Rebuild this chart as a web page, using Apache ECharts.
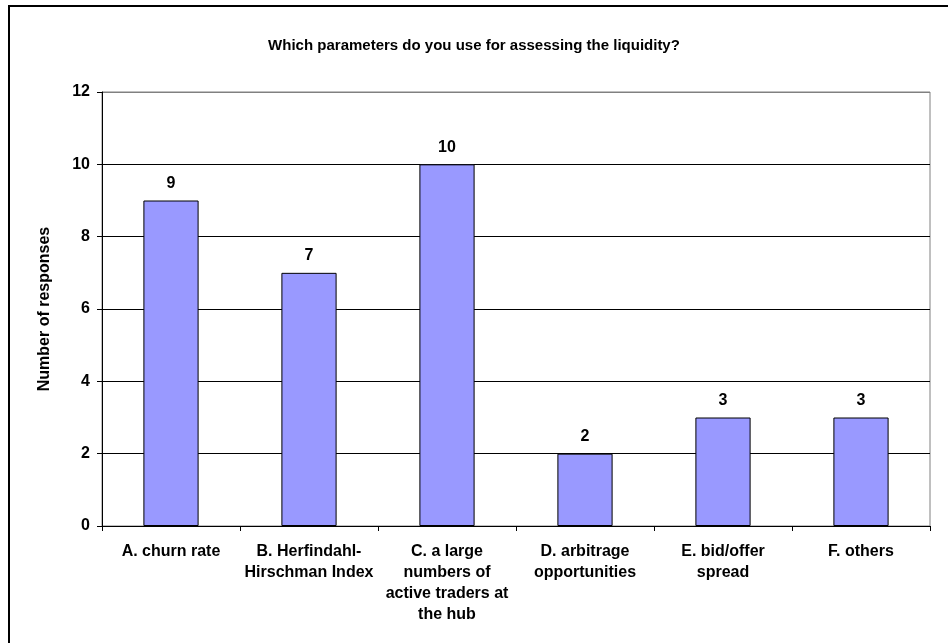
<!DOCTYPE html>
<html>
<head>
<meta charset="utf-8">
<script src="https://cdn.jsdelivr.net/npm/echarts@6/dist/echarts.min.js"></script>
<style>
html,body{margin:0;padding:0;background:#fff;}
#chart{width:948px;height:643px;}
</style>
</head>
<body>
<div id="chart"></div>
<script>
const titleText = "Which parameters do you use for assessing the liquidity?";
const categories = [
  "A. churn rate",
  "B. Herfindahl-\nHirschman Index",
  "C. a large\nnumbers of\nactive traders at\nthe hub",
  "D. arbitrage\nopportunities",
  "E. bid/offer\nspread",
  "F. others"
];
const responses = [9, 7, 10, 2, 3, 3];
const yAxisName = "Number of responses";
const yMin = 0, yMax = 12, yStep = 2;

const chart = echarts.init(document.getElementById('chart'), null, {renderer: 'canvas'});
const font = 'Liberation Sans, Arial, sans-serif';
chart.setOption({
  backgroundColor: '#fff',
  animation: false,
  textStyle: {fontFamily: font},
  title: {
    text: titleText,
    left: 'center',
    top: 33,
    textStyle: {fontFamily: font, fontSize: 15, fontWeight: 'bold', color: '#000'}
  },
  graphic: [{
    type: 'rect',
    shape: {x: 9, y: 6, width: 1000, height: 700},
    style: {fill: 'none', stroke: '#000', lineWidth: 2},
    silent: true
  }],
  grid: {
    left: 102, right: 18, top: 92, bottom: 117,
    show: true, borderColor: '#808080', borderWidth: 1, backgroundColor: 'transparent'
  },
  xAxis: {
    type: 'category',
    data: categories,
    axisLine: {lineStyle: {color: '#000', width: 1}},
    axisTick: {show: true, length: 5, lineStyle: {color: '#000'}},
    axisLabel: {
      interval: 0, margin: 15,
      fontFamily: font, fontSize: 16, fontWeight: 'bold', color: '#000',
      lineHeight: 21, align: 'center'
    }
  },
  yAxis: {
    type: 'value',
    min: yMin, max: yMax, interval: yStep,
    name: yAxisName,
    nameLocation: 'middle',
    nameGap: 49,
    nameRotate: 90,
    nameTextStyle: {fontFamily: font, fontSize: 16, fontWeight: 'bold', color: '#000'},
    axisLine: {show: true, lineStyle: {color: '#000', width: 1}},
    axisTick: {show: true, length: 5, lineStyle: {color: '#000'}},
    axisLabel: {margin: 12, fontFamily: font, fontSize: 16, fontWeight: 'bold', color: '#000'},
    splitLine: {show: true, lineStyle: {color: ['#000','#000','#000','#000','#000','#000','#808080'], width: 1}}
  },
  series: [{
    type: 'bar',
    data: responses,
    barWidth: '40%',
    itemStyle: {color: '#9999ff', borderColor: '#000', borderWidth: 1},
    label: {
      show: true, position: 'top', distance: 9,
      fontFamily: font, fontSize: 16, fontWeight: 'bold', color: '#000'
    }
  }]
});
</script>
</body>
</html>
